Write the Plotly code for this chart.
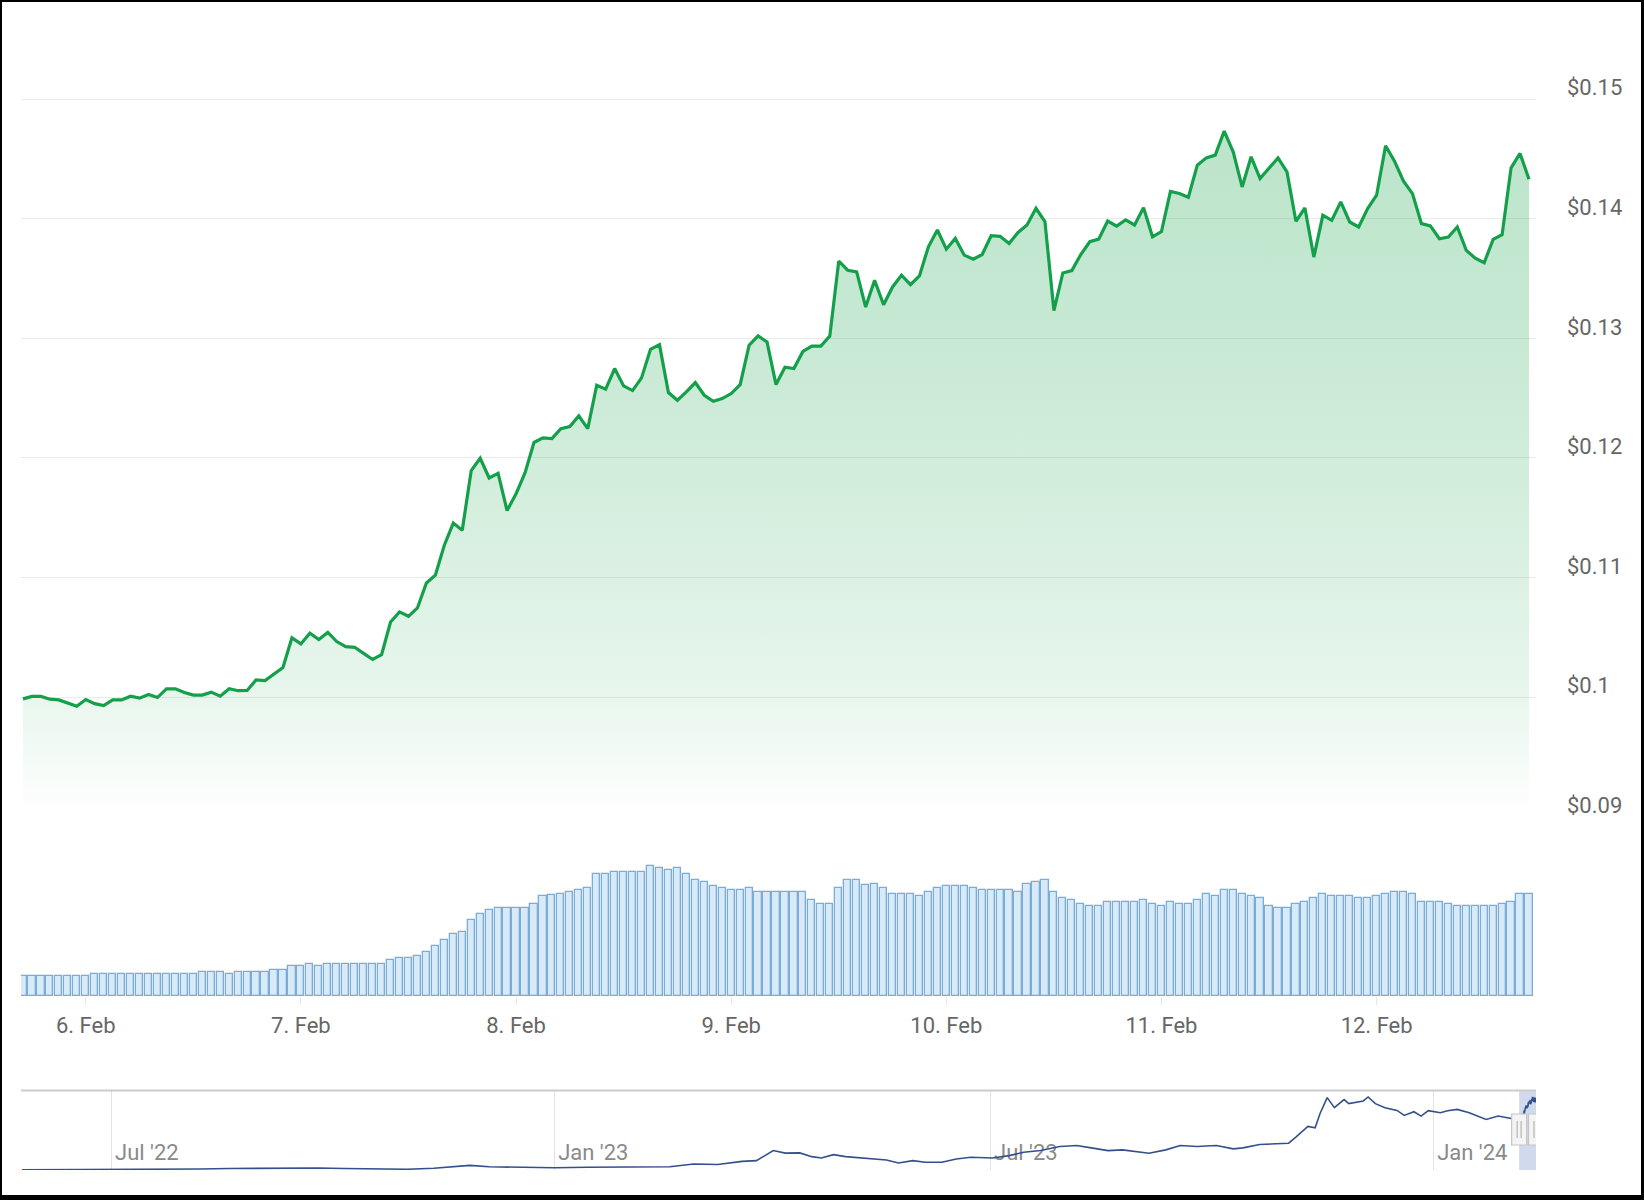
import pandas as pd
import plotly.graph_objects as go

# ---------------- data ----------------
start_time = "2024-02-05 17:00"   # first hourly point

prices = [
    0.09986, 0.10006, 0.10006, 0.09983, 0.09977, 0.09952, 0.09924, 0.09980, 0.09946, 0.09930,
    0.09977, 0.09977, 0.10008, 0.09992, 0.10023, 0.09997, 0.10070, 0.10070, 0.10039, 0.10017,
    0.10017, 0.10042, 0.10008, 0.10070, 0.10054, 0.10056, 0.10144, 0.10138, 0.10192, 0.10248,
    0.10496, 0.10445, 0.10535, 0.10482, 0.10541, 0.10465, 0.10423, 0.10417, 0.10366, 0.10315,
    0.10355, 0.10628, 0.10713, 0.10676, 0.10746, 0.10954, 0.11020, 0.11270, 0.11455, 0.11395,
    0.11894, 0.11997, 0.11832, 0.11871, 0.11560, 0.11700, 0.11875, 0.12129, 0.12167, 0.12162,
    0.12245, 0.12262, 0.12351, 0.12245, 0.12607, 0.12574, 0.12747, 0.12602, 0.12563, 0.12669,
    0.12908, 0.12947, 0.12546, 0.12482, 0.12552, 0.12630, 0.12524, 0.12474, 0.12496, 0.12538,
    0.12613, 0.12942, 0.13020, 0.12969, 0.12613, 0.12758, 0.12747, 0.12890, 0.12935, 0.12935,
    0.13018, 0.13644, 0.13569, 0.13555, 0.13261, 0.13485, 0.13280, 0.13429, 0.13527, 0.13448,
    0.13521, 0.13765, 0.13905, 0.13745, 0.13835, 0.13695, 0.13661, 0.13700, 0.13857, 0.13852,
    0.13793, 0.13885, 0.13947, 0.14087, 0.13975, 0.13232, 0.13546, 0.13566, 0.13700, 0.13807,
    0.13829, 0.13980, 0.13938, 0.13989, 0.13947, 0.14092, 0.13848, 0.13892, 0.14228, 0.14211,
    0.14179, 0.14447, 0.14508, 0.14531, 0.14732, 0.14559, 0.14265, 0.14517, 0.14335, 0.14425,
    0.14508, 0.14391, 0.13978, 0.14089, 0.13679, 0.14028, 0.13986, 0.14140, 0.13972, 0.13930,
    0.14084, 0.14196, 0.14609, 0.14480, 0.14313, 0.14209, 0.13958, 0.13939, 0.13832, 0.13846,
    0.13930, 0.13735, 0.13670, 0.13631, 0.13827, 0.13866, 0.14425, 0.14545, 0.14330,
]

volumes = [
    20.3, 20.3, 20.3, 20.3, 20.3, 20.3, 20.3, 20.3, 22.3, 22.3,
    22.3, 22.3, 22.3, 22.3, 22.3, 22.3, 22.3, 22.3, 22.3, 22.3,
    24.3, 24.3, 24.3, 22.3, 23.7, 23.7, 24.3, 24.3, 26.3, 26.3,
    30.3, 30.3, 32.0, 30.3, 32.0, 32.0, 32.0, 32.0, 32.0, 32.0,
    32.0, 36.3, 38.0, 38.0, 39.7, 44.0, 50.0, 55.7, 62.3, 64.3,
    76.3, 82.3, 85.7, 88.0, 88.0, 88.0, 88.0, 92.3, 100.3, 100.7,
    102.3, 104.0, 105.7, 108.3, 121.7, 122.3, 124.0, 124.0, 124.0, 124.0,
    130.3, 128.3, 126.3, 128.3, 122.3, 116.3, 114.0, 110.0, 108.3, 106.3,
    106.3, 108.0, 104.0, 104.0, 104.0, 104.0, 104.0, 104.0, 95.7, 92.3,
    92.3, 108.3, 115.7, 115.7, 110.7, 112.3, 108.3, 102.3, 102.3, 102.3,
    100.0, 104.0, 108.3, 110.0, 110.0, 110.0, 108.0, 106.3, 106.3, 106.3,
    106.3, 104.0, 112.3, 114.0, 116.3, 104.0, 98.0, 96.3, 92.3, 90.0,
    90.0, 94.0, 94.0, 94.0, 94.0, 95.7, 92.3, 90.0, 94.0, 92.3,
    92.3, 96.3, 102.3, 100.0, 106.3, 106.3, 102.3, 100.0, 98.0, 90.0,
    88.0, 88.0, 92.3, 94.0, 98.0, 102.3, 100.0, 100.0, 100.0, 98.0,
    98.0, 100.0, 102.3, 104.0, 104.0, 102.3, 94.0, 94.0, 94.0, 92.3,
    90.0, 90.0, 90.0, 90.0, 90.0, 92.3, 94.0, 102.3, 102.3,
]

nav_dates = [
    "2022-05-25", "2022-06-18", "2022-07-13", "2022-07-26", "2022-08-07", "2022-08-19",
    "2022-08-31", "2022-09-14", "2022-09-25", "2022-10-06", "2022-10-20", "2022-11-01",
    "2022-11-12", "2022-11-18", "2022-11-27", "2022-12-05", "2022-12-17", "2023-01-01",
    "2023-01-15", "2023-02-01", "2023-02-18", "2023-02-28", "2023-03-10", "2023-03-20",
    "2023-03-26", "2023-04-02", "2023-04-07", "2023-04-13", "2023-04-18", "2023-04-22",
    "2023-04-27", "2023-05-02", "2023-05-08", "2023-05-13", "2023-05-19", "2023-05-24",
    "2023-05-30", "2023-06-04", "2023-06-11", "2023-06-17", "2023-06-23", "2023-07-02",
    "2023-07-09", "2023-07-15", "2023-07-22", "2023-07-30", "2023-08-06", "2023-08-12",
    "2023-08-19", "2023-08-25", "2023-09-01", "2023-09-05", "2023-09-12", "2023-09-18",
    "2023-09-25", "2023-10-03", "2023-10-10", "2023-10-14", "2023-10-21", "2023-10-27",
    "2023-11-02", "2023-11-05", "2023-11-10", "2023-11-13", "2023-11-15", "2023-11-18",
    "2023-11-21", "2023-11-25", "2023-11-27", "2023-12-03", "2023-12-05", "2023-12-08",
    "2023-12-12", "2023-12-17", "2023-12-20", "2023-12-24", "2023-12-27", "2023-12-30",
    "2024-01-04", "2024-01-07", "2024-01-11", "2024-01-16", "2024-01-23", "2024-01-28",
    "2024-02-02",
]
nav_prices = [
    0.0005, 0.0005, 0.0006, 0.0008, 0.0020, 0.0030,
    0.0035, 0.0045, 0.0040, 0.0030, 0.0015, 0.0015,
    0.0035, 0.0061, 0.0093, 0.0065, 0.0050, 0.0045,
    0.0055, 0.0055, 0.0065, 0.0122, 0.0110, 0.0174,
    0.0188, 0.0391, 0.0340, 0.0345, 0.0269, 0.0243,
    0.0310, 0.0270, 0.0243, 0.0216, 0.0202, 0.0142,
    0.0189, 0.0155, 0.0155, 0.0223, 0.0256, 0.0243,
    0.0290, 0.0358, 0.0391, 0.0472, 0.0493, 0.0445,
    0.0391, 0.0405, 0.0358, 0.0338, 0.0405, 0.0493,
    0.0472, 0.0493, 0.0425, 0.0445, 0.0513, 0.0526,
    0.0540, 0.0661, 0.0877, 0.0850, 0.1133, 0.1457,
    0.1255, 0.1417, 0.1336, 0.1390, 0.1470, 0.1336,
    0.1255, 0.1200, 0.1100, 0.1174, 0.1086, 0.1194,
    0.1153, 0.1194, 0.1221, 0.1153, 0.1018, 0.1086,
    0.1040,
]

price_ticks = [0.09, 0.10, 0.11, 0.12, 0.13, 0.14, 0.15]
price_tick_text = ["$0.09", "$0.1", "$0.11", "$0.12", "$0.13", "$0.14", "$0.15"]

day_ticks = ["2024-02-06", "2024-02-07", "2024-02-08", "2024-02-09",
             "2024-02-10", "2024-02-11", "2024-02-12"]
day_tick_text = ["6. Feb", "7. Feb", "8. Feb", "9. Feb", "10. Feb", "11. Feb", "12. Feb"]

nav_ticks = ["2022-07-01", "2023-01-01", "2023-07-01", "2024-01-01"]
nav_tick_text = ["Jul '22", "Jan '23", "Jul '23", "Jan '24"]

# ---------------- layout helpers ----------------
W, H = 1644, 1200
def px_x(p):
    return p / W
def px_y(p):
    return 1 - p / H

times = pd.date_range(start_time, periods=len(prices), freq="h")
hour = pd.Timedelta(hours=1)

GREEN = "rgb(20,160,74)"
FONT = "Roboto"

fig = go.Figure()

# price line with vertical gradient fill
fig.add_trace(go.Scatter(
    x=times, y=prices, mode="lines",
    line=dict(color=GREEN, width=3.2),
    fill="tozeroy",
    fillgradient=dict(
        type="vertical",
        start=0.09, stop=max(prices),
        colorscale=[
            [0.0, "rgba(22,163,74,0.0)"],
            [0.09, "rgba(22,163,74,0.05)"],
            [0.18, "rgba(22,163,74,0.10)"],
            [0.45, "rgba(22,163,74,0.18)"],
            [0.7, "rgba(22,163,74,0.24)"],
            [1.0, "rgba(22,163,74,0.29)"],
        ],
    ),
    xaxis="x", yaxis="y", hoverinfo="skip", showlegend=False,
))

# volume bars
fig.add_trace(go.Bar(
    x=times, y=volumes,
    width=0.8 * 3600 * 1000,
    marker=dict(color="rgb(216,233,248)", line=dict(color="rgb(122,172,216)", width=1.3)),
    xaxis="x", yaxis="y2", hoverinfo="skip", showlegend=False,
))

# navigator line (long history + the displayed hourly window)
nav_x = list(pd.to_datetime(nav_dates)) + list(times)
nav_y = list(nav_prices) + list(prices)
fig.add_trace(go.Scatter(
    x=nav_x, y=nav_y, mode="lines",
    line=dict(color="rgb(52,80,140)", width=1.6),
    xaxis="x3", yaxis="y3", hoverinfo="skip", showlegend=False,
))

x_dom = [px_x(21), px_x(1536)]

shapes = []
# navigator mask over the selected range
shapes.append(dict(type="rect", xref="x3", yref="paper",
                   x0=times[0], x1=times[-1], y0=px_y(1170), y1=px_y(1090),
                   fillcolor="rgba(102,133,194,0.3)", line=dict(width=0), layer="below"))
# navigator top outline
shapes.append(dict(type="line", xref="paper", yref="paper",
                   x0=x_dom[0], x1=x_dom[1], y0=px_y(1090.5), y1=px_y(1090.5),
                   line=dict(color="#cccccc", width=2)))
# navigator handles
for t in (times[0], times[-1]):
    shapes.append(dict(type="rect", xref="x3", xsizemode="pixel", xanchor=t,
                       x0=-7.5, x1=7.5, yref="paper", y0=px_y(1145), y1=px_y(1114),
                       fillcolor="#f4f4f4", line=dict(color="#c4c4c4", width=1.2)))
    for dx in (-2, 2):
        shapes.append(dict(type="line", xref="x3", xsizemode="pixel", xanchor=t,
                           x0=dx, x1=dx, yref="paper", y0=px_y(1138), y1=px_y(1121),
                           line=dict(color="#b5b5b5", width=1.2)))
# black frame
shapes += [
    dict(type="rect", xref="paper", yref="paper", x0=0, x1=px_x(2), y0=0, y1=1,
         fillcolor="black", line=dict(width=0)),
    dict(type="rect", xref="paper", yref="paper", x0=0, x1=1, y0=px_y(2), y1=1,
         fillcolor="black", line=dict(width=0)),
    dict(type="rect", xref="paper", yref="paper", x0=px_x(1641), x1=1, y0=0, y1=1,
         fillcolor="black", line=dict(width=0)),
    dict(type="rect", xref="paper", yref="paper", x0=0, x1=1, y0=0, y1=px_y(1195),
         fillcolor="black", line=dict(width=0)),
]

fig.update_layout(
    width=W, height=H,
    margin=dict(l=0, r=0, t=0, b=0),
    paper_bgcolor="white", plot_bgcolor="white",
    font=dict(family=FONT, color="#666666", size=22),
    bargap=0,
    showlegend=False,
    xaxis=dict(
        domain=x_dom, anchor="y2", type="date",
        range=[times[0] - 0.223 * hour, times[-1] + 0.78 * hour],
        tickvals=pd.to_datetime(day_ticks), ticktext=day_tick_text,
        ticks="outside", ticklen=8, tickcolor="#e6e6e6", tickwidth=1,
        showgrid=False, showline=False, zeroline=False,
        tickfont=dict(size=22, color="#666666", family=FONT),
        ticklabelstandoff=2,
    ),
    yaxis=dict(
        domain=[px_y(816.8), px_y(20)], anchor="x", side="right",
        range=[0.09, 0.09 + (816.8 - 20) / 11963],
        tickvals=price_ticks, ticktext=price_tick_text,
        showgrid=True, gridcolor="#ebebeb", gridwidth=1,
        zeroline=False, showline=False, ticks="",
        ticklabelposition="outside top", ticklabelstandoff=30,
        ticklabelshift=4,
        tickfont=dict(size=22, color="#666666", family=FONT),
    ),
    yaxis2=dict(
        domain=[px_y(996), px_y(836)], anchor="x", range=[0, 160],
        visible=False,
    ),
    xaxis3=dict(
        domain=x_dom, anchor="y3", type="date",
        range=["2022-05-24 15:00", times[-1]],
        tickvals=pd.to_datetime(nav_ticks), ticktext=nav_tick_text,
        showgrid=True, gridcolor="#e3e3e3", gridwidth=1,
        ticks="", showline=False, zeroline=False,
        ticklabelposition="inside right", ticklabelshift=4,
        tickfont=dict(size=22, color="#8a8a8a", family=FONT),
        layer="below traces",
    ),
    yaxis3=dict(
        domain=[px_y(1170), px_y(1090)], anchor="x3", range=[0, 0.1611],
        visible=False,
    ),
    shapes=shapes,
)

fig.write_html("out.html", config={"displayModeBar": False})
